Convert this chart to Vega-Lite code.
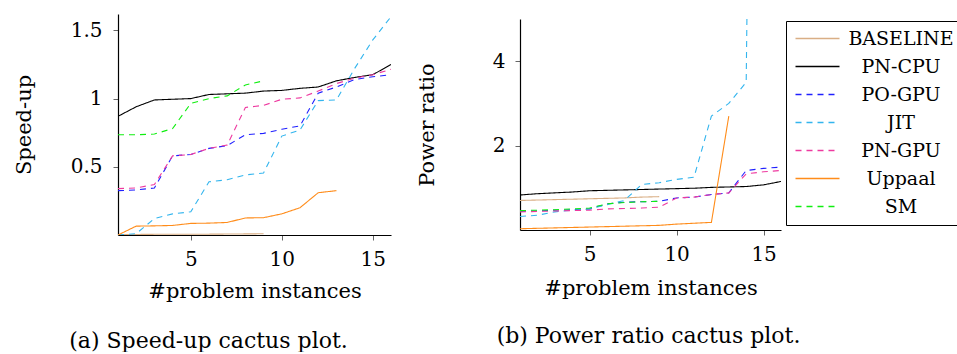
{
  "$schema": "https://vega.github.io/schema/vega-lite/v6.json",
  "background": "white",
  "padding": {"left": 12, "top": 14, "right": 0, "bottom": 0},
  "config": {
    "font": "DejaVu Serif",
    "view": {"stroke": null},
    "axis": {"domainColor": "black", "domainWidth": 1.2, "tickColor": "#666666", "tickSize": 5, "labelColor": "black", "labelFontSize": 20, "labelFont": "DejaVu Serif", "titleFont": "DejaVu Serif", "titleFontSize": 21, "titleFontWeight": "normal", "titleColor": "black", "grid": false},
    "legend": {"orient": "none", "legendX": 668, "legendY": 7, "strokeColor": "black", "fillColor": "white", "padding": 8, "symbolType": "M-4,0H4", "symbolSize": 121, "symbolOffset": 14, "symbolStrokeWidth": 1.3, "labelFontSize": 19, "labelFont": "DejaVu Serif", "labelColor": "black", "labelAlign": "center", "labelOffset": 74, "rowPadding": 8, "labelLimit": 300, "cornerRadius": 0}
  },
  "datasets": {
    "speedup": [
      {"series": "BASELINE", "n": 1, "v": 0.003}, {"series": "BASELINE", "n": 2, "v": 0.004}, {"series": "BASELINE", "n": 3, "v": 0.005}, {"series": "BASELINE", "n": 4, "v": 0.005}, {"series": "BASELINE", "n": 5, "v": 0.006}, {"series": "BASELINE", "n": 6, "v": 0.006}, {"series": "BASELINE", "n": 7, "v": 0.007}, {"series": "BASELINE", "n": 8, "v": 0.008}, {"series": "BASELINE", "n": 9, "v": 0.009},
      {"series": "PN-CPU", "n": 1, "v": 0.87}, {"series": "PN-CPU", "n": 2, "v": 0.94}, {"series": "PN-CPU", "n": 3, "v": 0.99}, {"series": "PN-CPU", "n": 4, "v": 0.995}, {"series": "PN-CPU", "n": 5, "v": 1.0}, {"series": "PN-CPU", "n": 6, "v": 1.03}, {"series": "PN-CPU", "n": 7, "v": 1.035}, {"series": "PN-CPU", "n": 8, "v": 1.04}, {"series": "PN-CPU", "n": 9, "v": 1.055}, {"series": "PN-CPU", "n": 10, "v": 1.06}, {"series": "PN-CPU", "n": 11, "v": 1.075}, {"series": "PN-CPU", "n": 12, "v": 1.085}, {"series": "PN-CPU", "n": 13, "v": 1.13}, {"series": "PN-CPU", "n": 14, "v": 1.155}, {"series": "PN-CPU", "n": 15, "v": 1.175}, {"series": "PN-CPU", "n": 16, "v": 1.25},
      {"series": "PO-GPU", "n": 1, "v": 0.325}, {"series": "PO-GPU", "n": 2, "v": 0.33}, {"series": "PO-GPU", "n": 3, "v": 0.345}, {"series": "PO-GPU", "n": 4, "v": 0.58}, {"series": "PO-GPU", "n": 5, "v": 0.59}, {"series": "PO-GPU", "n": 6, "v": 0.635}, {"series": "PO-GPU", "n": 7, "v": 0.655}, {"series": "PO-GPU", "n": 8, "v": 0.735}, {"series": "PO-GPU", "n": 9, "v": 0.745}, {"series": "PO-GPU", "n": 10, "v": 0.775}, {"series": "PO-GPU", "n": 11, "v": 0.8}, {"series": "PO-GPU", "n": 12, "v": 1.04}, {"series": "PO-GPU", "n": 13, "v": 1.085}, {"series": "PO-GPU", "n": 14, "v": 1.14}, {"series": "PO-GPU", "n": 15, "v": 1.16}, {"series": "PO-GPU", "n": 16, "v": 1.175},
      {"series": "JIT", "n": 1, "v": 0.0}, {"series": "JIT", "n": 2, "v": 0.01}, {"series": "JIT", "n": 3, "v": 0.12}, {"series": "JIT", "n": 4, "v": 0.155}, {"series": "JIT", "n": 5, "v": 0.17}, {"series": "JIT", "n": 6, "v": 0.39}, {"series": "JIT", "n": 7, "v": 0.405}, {"series": "JIT", "n": 8, "v": 0.44}, {"series": "JIT", "n": 9, "v": 0.455}, {"series": "JIT", "n": 10, "v": 0.725}, {"series": "JIT", "n": 11, "v": 0.77}, {"series": "JIT", "n": 12, "v": 0.985}, {"series": "JIT", "n": 13, "v": 0.99}, {"series": "JIT", "n": 14, "v": 1.22}, {"series": "JIT", "n": 15, "v": 1.43}, {"series": "JIT", "n": 16, "v": 1.6},
      {"series": "PN-GPU", "n": 1, "v": 0.34}, {"series": "PN-GPU", "n": 2, "v": 0.345}, {"series": "PN-GPU", "n": 3, "v": 0.37}, {"series": "PN-GPU", "n": 4, "v": 0.58}, {"series": "PN-GPU", "n": 5, "v": 0.59}, {"series": "PN-GPU", "n": 6, "v": 0.635}, {"series": "PN-GPU", "n": 7, "v": 0.66}, {"series": "PN-GPU", "n": 8, "v": 0.935}, {"series": "PN-GPU", "n": 9, "v": 0.95}, {"series": "PN-GPU", "n": 10, "v": 0.995}, {"series": "PN-GPU", "n": 11, "v": 1.005}, {"series": "PN-GPU", "n": 12, "v": 1.055}, {"series": "PN-GPU", "n": 13, "v": 1.11}, {"series": "PN-GPU", "n": 14, "v": 1.15}, {"series": "PN-GPU", "n": 15, "v": 1.175}, {"series": "PN-GPU", "n": 16, "v": 1.215},
      {"series": "Uppaal", "n": 1, "v": 0.0}, {"series": "Uppaal", "n": 2, "v": 0.065}, {"series": "Uppaal", "n": 3, "v": 0.067}, {"series": "Uppaal", "n": 4, "v": 0.07}, {"series": "Uppaal", "n": 5, "v": 0.085}, {"series": "Uppaal", "n": 6, "v": 0.087}, {"series": "Uppaal", "n": 7, "v": 0.092}, {"series": "Uppaal", "n": 8, "v": 0.125}, {"series": "Uppaal", "n": 9, "v": 0.127}, {"series": "Uppaal", "n": 10, "v": 0.155}, {"series": "Uppaal", "n": 11, "v": 0.2}, {"series": "Uppaal", "n": 12, "v": 0.31}, {"series": "Uppaal", "n": 13, "v": 0.325},
      {"series": "SM", "n": 1, "v": 0.735}, {"series": "SM", "n": 2, "v": 0.735}, {"series": "SM", "n": 3, "v": 0.74}, {"series": "SM", "n": 4, "v": 0.78}, {"series": "SM", "n": 5, "v": 0.965}, {"series": "SM", "n": 6, "v": 1.0}, {"series": "SM", "n": 7, "v": 1.02}, {"series": "SM", "n": 8, "v": 1.1}, {"series": "SM", "n": 9, "v": 1.13}
    ],
    "power": [
      {"series": "BASELINE", "n": 1, "v": 0.7}, {"series": "BASELINE", "n": 2, "v": 0.71}, {"series": "BASELINE", "n": 3, "v": 0.72}, {"series": "BASELINE", "n": 4, "v": 0.73}, {"series": "BASELINE", "n": 5, "v": 0.74}, {"series": "BASELINE", "n": 6, "v": 0.75}, {"series": "BASELINE", "n": 7, "v": 0.76}, {"series": "BASELINE", "n": 8, "v": 0.78}, {"series": "BASELINE", "n": 9, "v": 0.79},
      {"series": "PN-CPU", "n": 1, "v": 0.83}, {"series": "PN-CPU", "n": 2, "v": 0.86}, {"series": "PN-CPU", "n": 3, "v": 0.88}, {"series": "PN-CPU", "n": 4, "v": 0.9}, {"series": "PN-CPU", "n": 5, "v": 0.93}, {"series": "PN-CPU", "n": 6, "v": 0.94}, {"series": "PN-CPU", "n": 7, "v": 0.95}, {"series": "PN-CPU", "n": 8, "v": 0.96}, {"series": "PN-CPU", "n": 9, "v": 0.97}, {"series": "PN-CPU", "n": 10, "v": 0.98}, {"series": "PN-CPU", "n": 11, "v": 0.99}, {"series": "PN-CPU", "n": 12, "v": 1.01}, {"series": "PN-CPU", "n": 13, "v": 1.02}, {"series": "PN-CPU", "n": 14, "v": 1.03}, {"series": "PN-CPU", "n": 15, "v": 1.07}, {"series": "PN-CPU", "n": 16, "v": 1.15},
      {"series": "PO-GPU", "n": 1, "v": 0.44}, {"series": "PO-GPU", "n": 2, "v": 0.45}, {"series": "PO-GPU", "n": 3, "v": 0.47}, {"series": "PO-GPU", "n": 4, "v": 0.48}, {"series": "PO-GPU", "n": 5, "v": 0.5}, {"series": "PO-GPU", "n": 6, "v": 0.62}, {"series": "PO-GPU", "n": 7, "v": 0.66}, {"series": "PO-GPU", "n": 8, "v": 0.67}, {"series": "PO-GPU", "n": 9, "v": 0.68}, {"series": "PO-GPU", "n": 10, "v": 0.76}, {"series": "PO-GPU", "n": 11, "v": 0.78}, {"series": "PO-GPU", "n": 12, "v": 0.84}, {"series": "PO-GPU", "n": 13, "v": 0.88}, {"series": "PO-GPU", "n": 14, "v": 1.41}, {"series": "PO-GPU", "n": 15, "v": 1.46}, {"series": "PO-GPU", "n": 16, "v": 1.49},
      {"series": "JIT", "n": 1, "v": 0.32}, {"series": "JIT", "n": 2, "v": 0.35}, {"series": "JIT", "n": 3, "v": 0.43}, {"series": "JIT", "n": 4, "v": 0.47}, {"series": "JIT", "n": 5, "v": 0.5}, {"series": "JIT", "n": 6, "v": 0.6}, {"series": "JIT", "n": 7, "v": 0.7}, {"series": "JIT", "n": 8, "v": 1.08}, {"series": "JIT", "n": 9, "v": 1.12}, {"series": "JIT", "n": 10, "v": 1.2}, {"series": "JIT", "n": 11, "v": 1.25}, {"series": "JIT", "n": 12, "v": 2.7}, {"series": "JIT", "n": 13, "v": 3.0}, {"series": "JIT", "n": 14, "v": 3.5}, {"series": "JIT", "n": 15, "v": 40},
      {"series": "PN-GPU", "n": 1, "v": 0.43}, {"series": "PN-GPU", "n": 2, "v": 0.44}, {"series": "PN-GPU", "n": 3, "v": 0.45}, {"series": "PN-GPU", "n": 4, "v": 0.46}, {"series": "PN-GPU", "n": 5, "v": 0.47}, {"series": "PN-GPU", "n": 6, "v": 0.5}, {"series": "PN-GPU", "n": 7, "v": 0.51}, {"series": "PN-GPU", "n": 8, "v": 0.52}, {"series": "PN-GPU", "n": 9, "v": 0.54}, {"series": "PN-GPU", "n": 10, "v": 0.76}, {"series": "PN-GPU", "n": 11, "v": 0.78}, {"series": "PN-GPU", "n": 12, "v": 0.84}, {"series": "PN-GPU", "n": 13, "v": 0.88}, {"series": "PN-GPU", "n": 14, "v": 1.33}, {"series": "PN-GPU", "n": 15, "v": 1.38}, {"series": "PN-GPU", "n": 16, "v": 1.41},
      {"series": "Uppaal", "n": 1, "v": 0.03}, {"series": "Uppaal", "n": 2, "v": 0.04}, {"series": "Uppaal", "n": 3, "v": 0.05}, {"series": "Uppaal", "n": 4, "v": 0.06}, {"series": "Uppaal", "n": 5, "v": 0.07}, {"series": "Uppaal", "n": 6, "v": 0.08}, {"series": "Uppaal", "n": 7, "v": 0.09}, {"series": "Uppaal", "n": 8, "v": 0.1}, {"series": "Uppaal", "n": 9, "v": 0.11}, {"series": "Uppaal", "n": 10, "v": 0.14}, {"series": "Uppaal", "n": 11, "v": 0.16}, {"series": "Uppaal", "n": 12, "v": 0.18}, {"series": "Uppaal", "n": 13, "v": 2.7},
      {"series": "SM", "n": 1, "v": 0.46}, {"series": "SM", "n": 2, "v": 0.47}, {"series": "SM", "n": 3, "v": 0.48}, {"series": "SM", "n": 4, "v": 0.5}, {"series": "SM", "n": 5, "v": 0.52}, {"series": "SM", "n": 6, "v": 0.62}, {"series": "SM", "n": 7, "v": 0.65}, {"series": "SM", "n": 8, "v": 0.67}, {"series": "SM", "n": 9, "v": 0.68}
    ]
  },
  "spacing": 129,
  "bounds": "flush",
  "center": true,
  "resolve": {"scale": {"color": "shared", "strokeDash": "shared"}},
  "hconcat": [
    {
      "width": 273,
      "height": 221,
      "data": {"name": "speedup"},
      "title": {"text": "(a) Speed-up cactus plot.", "orient": "bottom", "anchor": "middle", "frame": "group", "dx": -46, "offset": 30, "fontSize": 22, "fontWeight": "normal", "font": "DejaVu Serif", "color": "black", "baseline": "top"},
      "mark": {"type": "line", "strokeWidth": 1.1, "clip": true},
      "encoding": {
        "x": {"field": "n", "type": "quantitative", "scale": {"domain": [1, 16], "nice": false, "zero": false}, "axis": {"values": [5, 10, 15], "title": "#problem instances", "titleY": 56, "titleBaseline": "middle", "labelPadding": 9}},
        "y": {"field": "v", "type": "quantitative", "scale": {"domain": [0, 1.62], "nice": false}, "axis": {"values": [0.5, 1, 1.5], "format": "~g", "title": "Speed-up", "titleX": -94, "titleBaseline": "middle", "labelPadding": 11}},
        "color": {"field": "series", "type": "nominal", "scale": {"domain": ["BASELINE", "PN-CPU", "PO-GPU", "JIT", "PN-GPU", "Uppaal", "SM"], "range": ["#d9ae85", "#000000", "#2020ff", "#33b5ee", "#ee3aa0", "#ff8c1a", "#10ee10"]}, "legend": {"title": null}},
        "strokeDash": {"field": "series", "type": "nominal", "scale": {"domain": ["BASELINE", "PN-CPU", "PO-GPU", "JIT", "PN-GPU", "Uppaal", "SM"], "range": [[1, 0], [1, 0], [6, 5], [6, 5], [6, 5], [1, 0], [6, 5]]}, "legend": {"title": null}}
      }
    },
    {
      "width": 261,
      "height": 211,
      "data": {"name": "power"},
      "title": {"text": "(b) Power ratio cactus plot.", "orient": "bottom", "anchor": "middle", "frame": "group", "dx": -2, "offset": 28, "fontSize": 22, "fontWeight": "normal", "font": "DejaVu Serif", "color": "black", "baseline": "top"},
      "mark": {"type": "line", "strokeWidth": 1.1, "clip": true},
      "encoding": {
        "x": {"field": "n", "type": "quantitative", "scale": {"domain": [1, 16], "nice": false, "zero": false}, "axis": {"values": [5, 10, 15], "title": "#problem instances", "titleY": 58, "titleBaseline": "middle", "labelPadding": 9}},
        "y": {"field": "v", "type": "quantitative", "scale": {"domain": [0, 5], "nice": false}, "axis": {"values": [2, 4], "title": "Power ratio", "titleX": -93, "titleBaseline": "middle", "labelPadding": 10}},
        "color": {"field": "series", "type": "nominal", "legend": {"title": null}},
        "strokeDash": {"field": "series", "type": "nominal", "legend": {"title": null}}
      }
    }
  ]
}
